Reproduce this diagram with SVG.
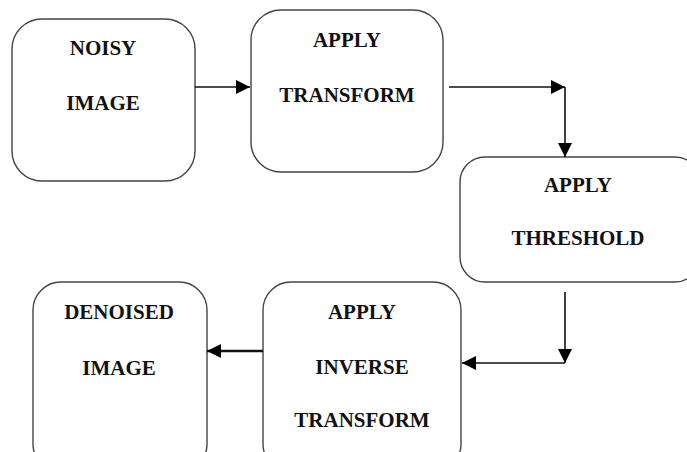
<svg xmlns="http://www.w3.org/2000/svg" width="687" height="452" viewBox="0 0 687 452">
<defs>
<style>
.box{fill:#fff;stroke:#444;stroke-width:1.4}
.lbl{font-family:'Liberation Serif','DejaVu Serif',serif;font-weight:700;font-size:21px;fill:#111;text-anchor:middle}
.con{fill:none;stroke:#111;stroke-width:1.6}
</style>
<marker id="ah" viewBox="0 0 10 10" refX="10" refY="5" markerWidth="14" markerHeight="14" markerUnits="userSpaceOnUse" orient="auto">
<path d="M0,0 L10,5 L0,10 z" fill="#000"/>
</marker>
</defs>
<rect width="687" height="452" fill="#fff"/>
<g id="noisy">
<rect class="box" x="12" y="19" width="183" height="162" rx="30"/>
<text class="lbl" x="103" y="55">NOISY</text>
<text class="lbl" x="103" y="110">IMAGE</text>
</g>
<g id="transform">
<rect class="box" x="251" y="10" width="192" height="162" rx="30"/>
<text class="lbl" x="347" y="47">APPLY</text>
<text class="lbl" x="347" y="102">TRANSFORM</text>
</g>
<g id="threshold">
<rect class="box" x="460" y="157" width="240" height="125" rx="25"/>
<text class="lbl" x="578" y="192">APPLY</text>
<text class="lbl" x="578" y="245">THRESHOLD</text>
</g>
<g id="inverse">
<rect class="box" x="263" y="282" width="198" height="190" rx="28"/>
<text class="lbl" x="362" y="319">APPLY</text>
<text class="lbl" x="362" y="374">INVERSE</text>
<text class="lbl" x="362" y="427">TRANSFORM</text>
</g>
<g id="denoised">
<rect class="box" x="33" y="282" width="174" height="190" rx="28"/>
<text class="lbl" x="119" y="319">DENOISED</text>
<text class="lbl" x="119" y="375">IMAGE</text>
</g>
<g id="connectors">
<line class="con" x1="195" y1="87" x2="250" y2="87" marker-end="url(#ah)"/>
<line class="con" x1="449" y1="87" x2="565" y2="87" marker-end="url(#ah)"/>
<line class="con" x1="565" y1="87" x2="565" y2="157" marker-end="url(#ah)"/>
<line class="con" x1="565" y1="292" x2="565" y2="363" marker-end="url(#ah)"/>
<line class="con" x1="565" y1="363" x2="462" y2="363" marker-end="url(#ah)"/>
<line class="con" x1="263" y1="351" x2="207" y2="351" marker-end="url(#ah)" style="stroke-width:2.6"/>
</g>
</svg>
